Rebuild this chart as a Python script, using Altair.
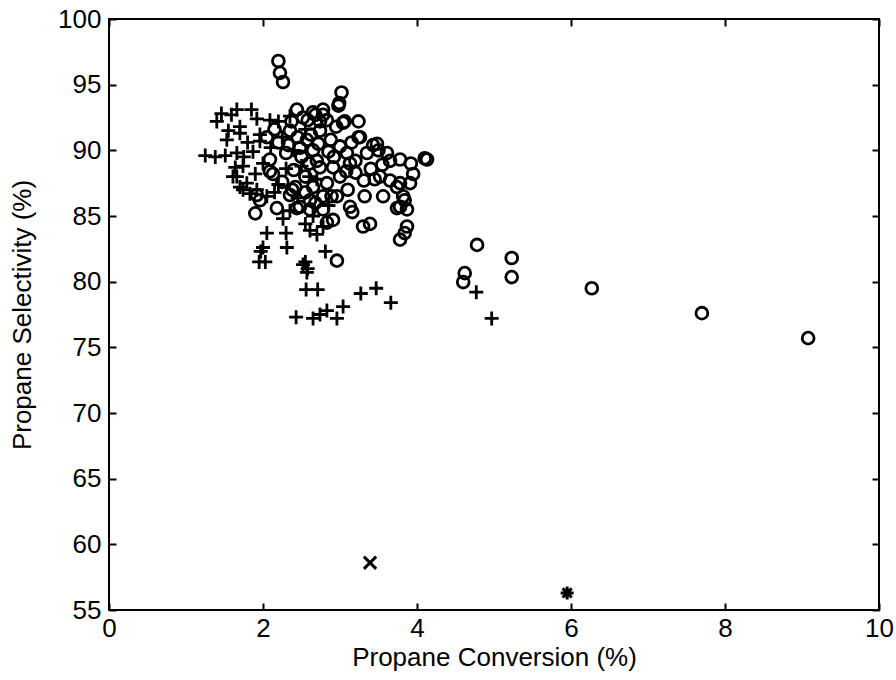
import altair as alt
import pandas as pd

# ---- data ----
circle_x = [2.20, 2.22, 2.26, 3.02, 2.99, 3.06, 3.24, 3.24, 3.43, 3.50, 3.48, 3.61,
            3.78, 3.92, 4.10, 4.13, 3.31, 3.65, 3.78, 3.91, 3.95, 3.32, 3.56, 3.74,
            3.82, 3.78, 3.87, 3.74, 3.84, 3.16, 3.30, 3.39, 3.87, 3.84, 3.78, 2.96,
            2.89, 2.91, 2.78, 2.83, 2.61, 2.48, 2.44, 2.18, 1.90, 1.92, 1.96, 2.35,
            2.96, 3.13, 2.09, 2.09, 2.13, 2.44, 2.65, 2.78, 2.74, 2.37, 2.98, 3.04,
            2.78, 2.68, 2.58, 2.83, 2.74, 3.00, 3.09, 3.13, 2.91, 2.74, 2.65, 2.57,
            2.83, 3.00, 2.65, 2.61, 2.78, 3.26, 2.45, 2.50, 2.40, 2.55, 2.30, 2.35,
            2.88, 2.92, 2.70, 2.52, 2.62, 2.20, 2.25, 2.42, 2.85, 3.20, 3.35, 3.40,
            3.55, 3.65, 3.45, 3.20, 3.10, 2.33, 2.15, 2.05,
            2.48, 2.60, 2.72, 2.95, 3.08, 2.38, 2.55, 2.68, 3.15, 3.52,
            4.78, 5.23, 5.23, 4.62, 4.60, 6.27, 7.70, 9.08]
circle_y = [96.8, 95.9, 95.2, 94.4, 93.6, 92.2, 92.2, 91.0, 90.4, 90.0, 90.5, 89.8,
            89.3, 89.0, 89.4, 89.3, 87.7, 87.7, 87.5, 87.5, 88.2, 86.5, 86.5, 87.2,
            86.5, 85.7, 85.5, 85.6, 86.2, 85.3, 84.2, 84.4, 84.2, 83.7, 83.2, 81.6,
            86.5, 84.7, 85.5, 84.5, 85.5, 85.7, 85.6, 85.6, 85.2, 86.6, 86.2, 86.6,
            86.5, 85.7, 89.3, 88.4, 88.2, 93.1, 92.9, 92.7, 92.2, 92.2, 93.4, 92.1,
            93.1, 92.7, 92.3, 92.3, 91.5, 90.3, 89.8, 89.0, 88.7, 88.7, 90.0, 90.8,
            87.5, 88.0, 87.2, 86.2, 86.5, 91.0, 91.0, 89.5, 88.5, 88.0, 89.8, 91.5,
            90.8, 89.5, 89.2, 92.5, 91.2, 90.6, 87.6, 87.2, 89.9, 89.2, 89.8, 88.6,
            88.9, 89.2, 87.8, 88.3, 87.0, 90.4, 91.6, 91.0,
            90.2, 89.0, 90.5, 91.8, 88.4, 87.0, 86.8, 86.0, 90.6, 88.0,
            82.8, 81.8, 80.35, 80.65, 79.97, 79.5, 77.6, 75.7]

plus_x = [1.46, 1.40, 1.59, 1.66, 1.85, 1.92, 2.09, 2.20, 1.70, 1.70, 1.96, 1.96,
          1.53, 1.25, 1.38, 1.51, 1.66, 1.87, 1.74, 1.66, 1.79, 1.92, 1.83, 1.61,
          1.70, 1.64, 1.74, 2.05, 2.30, 2.31, 1.97, 2.03, 1.95, 2.81, 2.55, 2.57,
          2.58, 2.52, 2.56, 2.71, 2.43, 2.65, 2.74, 2.83, 2.96, 3.04, 3.27, 3.47,
          3.66, 2.26, 2.61, 2.70, 2.78, 2.00, 4.77, 4.97,
          2.00, 2.10, 2.25, 2.40, 2.30, 2.50, 2.60, 2.20, 2.45, 2.70, 2.35, 2.55,
          1.80, 1.55, 1.75, 2.15, 2.65, 2.85, 2.55, 2.35, 1.90, 2.05]
plus_y = [92.8, 92.2, 92.7, 93.1, 93.1, 92.4, 92.3, 92.2, 91.8, 91.3, 91.2, 90.7,
          90.8, 89.6, 89.5, 89.6, 89.8, 89.9, 88.8, 88.0, 87.5, 87.0, 86.7, 88.0,
          87.2, 88.7, 87.0, 83.7, 83.7, 82.6, 82.3, 81.5, 81.5, 82.3, 81.5, 80.7,
          81.0, 81.3, 79.4, 79.4, 77.3, 77.2, 77.5, 77.8, 77.2, 78.1, 79.1, 79.5,
          78.4, 84.8, 83.9, 83.6, 84.2, 82.6, 79.2, 77.2,
          89.0, 90.2, 91.0, 90.0, 88.6, 88.8, 88.0, 87.4, 86.4, 87.8, 92.6, 91.6,
          90.6, 91.5, 89.5, 86.8, 85.0, 85.8, 84.4, 85.4, 88.2, 86.5]

cross_x = [3.39]
cross_y = [58.6]
star_x = [5.95]
star_y = [56.3]

x_ticks = [0, 2, 4, 6, 8, 10]
y_ticks = [55, 60, 65, 70, 75, 80, 85, 90, 95, 100]

circles = pd.DataFrame({"x": circle_x, "y": circle_y})
pluses = pd.DataFrame({"x": plus_x, "y": plus_y})
crosses = pd.DataFrame({"x": cross_x, "y": cross_y})
stars = pd.DataFrame({"x": star_x, "y": star_y})

W, H = 770, 591
FONT = "Liberation Sans"
FS = 26
xs = alt.Scale(domain=[0, 10], nice=False, zero=False)
ys = alt.Scale(domain=[55, 100], nice=False, zero=False)


def tick_axis(orient, values, offset):
    return alt.Axis(orient=orient, values=values, offset=offset, ticks=True,
                    tickSize=7, tickWidth=2, tickColor="black", labels=False,
                    domain=False, grid=False, title=None)


# main layer: circles with labels & titles
base_circles = alt.Chart(circles).mark_point(
    shape="circle", filled=False, size=140, strokeWidth=2.8, color="black", opacity=1
).encode(
    x=alt.X("x:Q", scale=xs, axis=alt.Axis(
        orient="bottom", values=x_ticks, ticks=False, domain=False, grid=False,
        labelFont=FONT, labelFontSize=FS, labelColor="black", labelPadding=5,
        labelFlush=False, labelOverlap=False, format="d",
        title="Propane Conversion (%)", titleFont=FONT, titleFontSize=FS,
        titleFontWeight="normal", titleColor="black", titlePadding=3)),
    y=alt.Y("y:Q", scale=ys, axis=alt.Axis(
        orient="left", values=y_ticks, ticks=False, domain=False, grid=False,
        labelFont=FONT, labelFontSize=FS, labelColor="black", labelPadding=8,
        labelFlush=False, labelOverlap=False, format="d",
        title="Propane Selectivity (%)", titleFont=FONT, titleFontSize=FS,
        titleFontWeight="normal", titleColor="black", titlePadding=22)),
)

# pluses: carry inward ticks for bottom and left edges
plus_layer = alt.Chart(pluses).mark_point(
    shape="M-1,0L1,0M0,-1L0,1", filled=False, size=196, strokeWidth=2.8,
    color="black", opacity=1
).encode(
    x=alt.X("x:Q", scale=xs, axis=tick_axis("top", x_ticks, -H)),
    y=alt.Y("y:Q", scale=ys, axis=tick_axis("right", y_ticks, -W)),
)

# x-marker: carries inward ticks for top and right edges
cross_layer = alt.Chart(crosses).mark_point(
    shape="M-1,-1L1,1M-1,1L1,-1", filled=False, size=150, strokeWidth=3,
    color="black", opacity=1
).encode(
    x=alt.X("x:Q", scale=xs, axis=tick_axis("bottom", x_ticks, -H)),
    y=alt.Y("y:Q", scale=ys, axis=tick_axis("left", y_ticks, -W)),
)

star_layer = alt.Chart(stars).mark_point(
    shape="M-1,0L1,0M0,-1L0,1M-0.7,-0.7L0.7,0.7M-0.7,0.7L0.7,-0.7",
    filled=False, size=170, strokeWidth=3, color="black", opacity=1
).encode(
    x=alt.X("x:Q", scale=xs, axis=None),
    y=alt.Y("y:Q", scale=ys, axis=None),
)

chart = alt.layer(base_circles, plus_layer, cross_layer, star_layer).resolve_axis(
    x="independent", y="independent"
).properties(
    width=W, height=H,
    padding={"left": 109, "top": 19, "right": 17, "bottom": 70},
    autosize=alt.AutoSizeParams(type="none"),
    background="white",
).configure_view(stroke="black", strokeWidth=2)

chart.save("out.html", embed_options={"renderer": "svg", "actions": False})
